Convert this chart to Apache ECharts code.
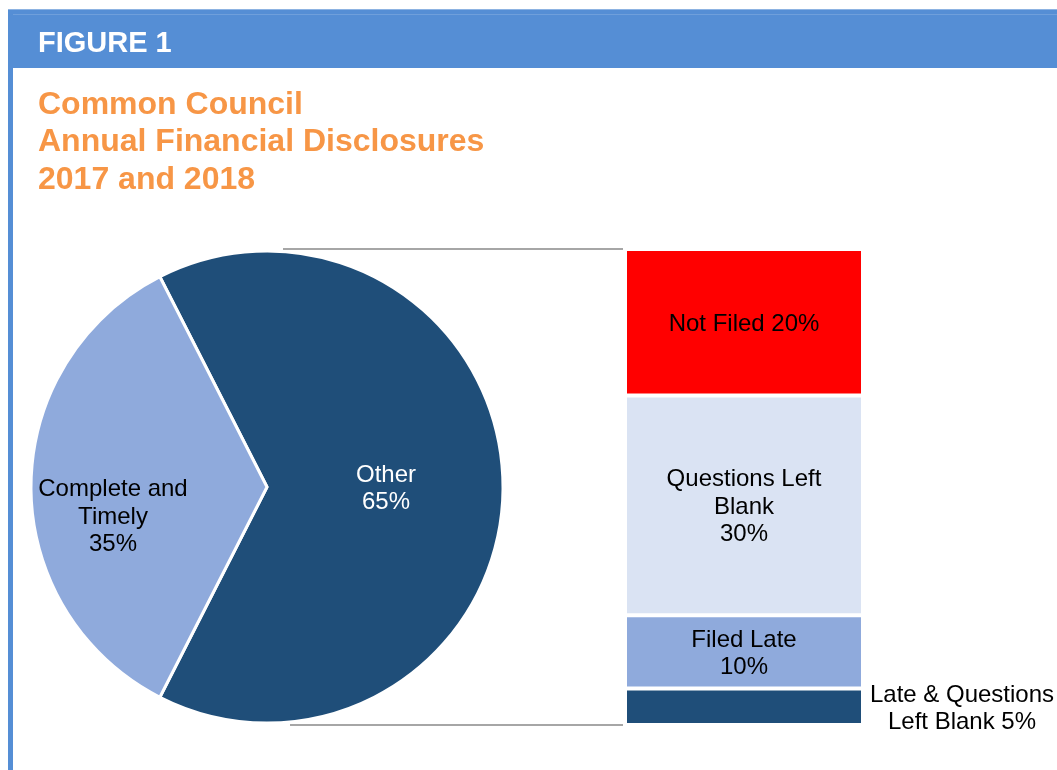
<!DOCTYPE html>
<html>
<head>
<meta charset="utf-8">
<script src="https://cdn.jsdelivr.net/npm/echarts@6/dist/echarts.min.js"></script>
<style>
  html, body { margin: 0; padding: 0; background: #ffffff; }
  #chart { width: 1057px; height: 770px; }
</style>
</head>
<body>
<div id="chart"></div>
<script>
// Pie: share of disclosures that were complete and timely vs. everything else
const pieNames = ['Other', 'Complete and\nTimely'];
const pieValues = [65, 35];
const pieColors = ['#1f4e79', '#8faadc'];

// Breakdown of "Other", stacked from the bottom up
const barNames = ['Late & Questions\nLeft Blank', 'Filed Late', 'Questions Left\nBlank', 'Not Filed'];
const barValues = [5, 10, 30, 20];
const barLabelJoin = [' ', '\n', '\n', ' '];
const barColors = ['#1f4e79', '#8faadc', '#dae3f3', '#ff0000'];

const FONT = '"Liberation Sans", Arial, sans-serif';
const barTotal = barValues.reduce((a, b) => a + b, 0);
const pieCenter = [267, 487];
const pieRadius = 236;
const barWidth = 238;

const chart = echarts.init(document.getElementById('chart'), null, { renderer: 'canvas' });

const labelText = {
  color: '#000000',
  fontFamily: FONT,
  fontSize: 24,
  lineHeight: 27.5
};

const barSeries = barValues.map((v, i) => ({
  type: 'bar',
  name: barNames[i],
  stack: 'other',
  barWidth: barWidth,
  data: [v],
  itemStyle: { color: barColors[i], borderColor: '#ffffff', borderWidth: 2 },
  label: Object.assign({
    show: true,
    formatter: () => barNames[i] + barLabelJoin[i] + v + '%'
  }, labelText, i === 0 ? {
    position: 'right',
    distance: 99,
    align: 'center',
    offset: [0, 2]
  } : {
    position: 'inside',
    offset: [0, 2]
  }),
  emphasis: { disabled: true },
  silent: true,
  z: 3
}));

const headerGraphics = [
  { id: 'frameLeft', type: 'rect', shape: { x: 8, y: 9, width: 5, height: 770 }, style: { fill: '#558ed5' }, z: 10 },
  { id: 'headerTopLine', type: 'rect', shape: { x: 8, y: 9, width: 1049, height: 1 }, style: { fill: '#8db3e2' }, z: 10 },
  { id: 'header', type: 'rect', shape: { x: 8, y: 10, width: 1049, height: 58 }, style: { fill: '#558ed5' }, z: 10 },
  { id: 'headerInner', type: 'rect', shape: { x: 13, y: 14, width: 1044, height: 1 }, style: { fill: '#6f9fdb' }, z: 11 },
  {
    id: 'figureLabel', type: 'text', left: 38, top: 29, z: 12,
    style: { text: 'FIGURE 1', fill: '#ffffff', font: 'bold 29px ' + FONT }
  },
  {
    id: 'chartTitle', type: 'text', left: 38, top: 86, z: 12,
    style: {
      text: 'Common Council\nAnnual Financial Disclosures\n2017 and 2018',
      fill: '#f79646', font: 'bold 32px ' + FONT, lineHeight: 37.5
    }
  }
];

const option = {
  animation: false,
  backgroundColor: '#ffffff',
  grid: { left: 625, top: 249, width: barWidth, height: 476, containLabel: false },
  xAxis: { type: 'category', data: ['Other'], show: false },
  yAxis: { type: 'value', min: 0, max: barTotal, show: false },
  graphic: headerGraphics,
  series: [
    {
      type: 'pie',
      center: pieCenter,
      radius: pieRadius,
      startAngle: 117,
      clockwise: true,
      silent: true,
      emphasis: { disabled: true },
      itemStyle: { borderColor: '#ffffff', borderWidth: 3 },
      label: Object.assign({
        show: true,
        position: 'inside',
        formatter: (p) => p.name + '\n' + p.value + '%'
      }, labelText),
      labelLine: { show: false },
      labelLayout: (p) => p.dataIndex === 1 ? { dx: -16.5, dy: 15 } : { dx: -1, dy: 1 },
      data: pieNames.map((n, i) => ({
        name: n,
        value: pieValues[i],
        itemStyle: { color: pieColors[i] },
        label: { color: i === 0 ? '#ffffff' : '#000000' }
      })),
      z: 3
    },
    ...barSeries
  ]
};

chart.setOption(option);

// Connector lines from the pie to the top and bottom of the stacked bar
const yTop = chart.convertToPixel({ yAxisIndex: 0 }, barTotal);
const yBottom = chart.convertToPixel({ yAxisIndex: 0 }, 0);
const barLeft = chart.convertToPixel({ xAxisIndex: 0 }, 'Other') - barWidth / 2;
chart.setOption({
  graphic: headerGraphics.concat([
    { id: 'connTop', type: 'line', z: 1, shape: { x1: pieCenter[0] + 16, y1: yTop, x2: barLeft - 2, y2: yTop }, style: { stroke: '#a6a6a6', lineWidth: 2 } },
    { id: 'connBottom', type: 'line', z: 1, shape: { x1: pieCenter[0] + 23, y1: yBottom, x2: barLeft - 2, y2: yBottom }, style: { stroke: '#a6a6a6', lineWidth: 2 } }
  ])
});
</script>
</body>
</html>
